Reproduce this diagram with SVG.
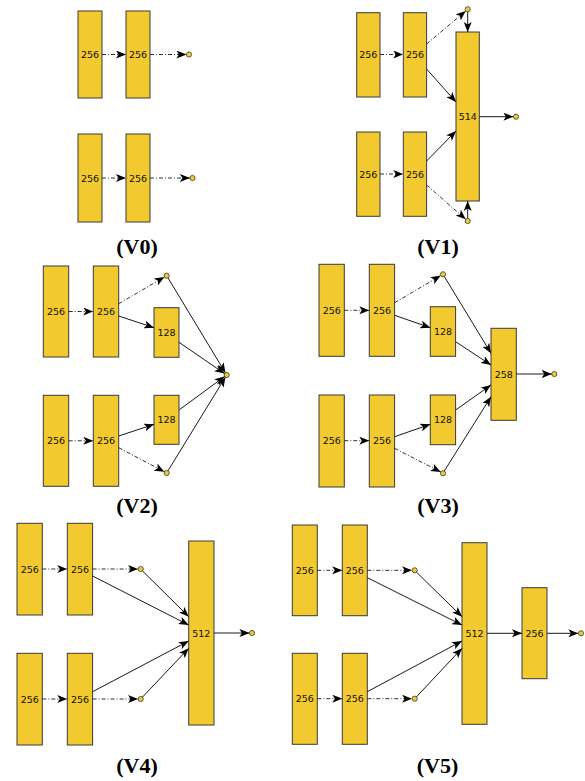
<svg xmlns="http://www.w3.org/2000/svg" width="585" height="781" viewBox="0 0 585 781">
<style>
.b{fill:#F2C92E;stroke:#3a3a3a;stroke-width:1}
.c{fill:#F2C92E;stroke:#3a3a3a;stroke-width:0.8}
.t{font-family:"DejaVu Sans",sans-serif;font-size:9.5px;fill:#111;text-anchor:middle;dominant-baseline:central}
.s{stroke:#1a1a1a;stroke-width:1;fill:none;marker-end:url(#ah)}
.d{stroke:#1a1a1a;stroke-width:0.9;fill:none;stroke-dasharray:4 2 1 2;marker-end:url(#ah)}
.L{font-family:"Liberation Serif",serif;font-size:22px;font-weight:bold;fill:#000;text-anchor:middle}
</style>
<defs>
<marker id="ah" markerUnits="userSpaceOnUse" markerWidth="10" markerHeight="8" viewBox="0 0 10 8" refX="10" refY="4" orient="auto">
<path d="M0,0 L10,4 L0,8 L2.5,4 z" fill="#000"/>
</marker>
</defs>

<!-- V0 -->
<g id="v0-a1"><rect class="b" x="78" y="11" width="24" height="87"/><text class="t" x="90" y="54.5">256</text></g>
<g id="v0-a2"><rect class="b" x="126" y="11" width="24" height="87"/><text class="t" x="138" y="54.5">256</text></g>
<g id="v0-ao"><circle class="c" cx="189" cy="54.5" r="2.6"/></g>
<g id="v0-b1"><rect class="b" x="78" y="134" width="24" height="88"/><text class="t" x="90" y="178">256</text></g>
<g id="v0-b2"><rect class="b" x="126" y="134" width="24" height="88"/><text class="t" x="138" y="178">256</text></g>
<g id="v0-bo"><circle class="c" cx="192.5" cy="178" r="2.6"/></g>

<!-- V1 -->
<g id="v1-a1"><rect class="b" x="356.7" y="12.7" width="23.3" height="84.3"/><text class="t" x="368.3" y="54.5">256</text></g>
<g id="v1-a2"><rect class="b" x="403.3" y="12.7" width="23.3" height="84.3"/><text class="t" x="415" y="54.5">256</text></g>
<g id="v1-b1"><rect class="b" x="356.7" y="132" width="23.3" height="84.3"/><text class="t" x="368.3" y="174">256</text></g>
<g id="v1-b2"><rect class="b" x="403.3" y="132" width="23.3" height="84.3"/><text class="t" x="415" y="174">256</text></g>
<g id="v1-m"><rect class="b" x="456" y="32" width="23.3" height="169"/><text class="t" x="467.7" y="116.7">514</text></g>
<g id="v1-ct"><circle class="c" cx="467.7" cy="9.3" r="2.6"/></g>
<g id="v1-cb"><circle class="c" cx="467.7" cy="221" r="2.6"/></g>
<g id="v1-o"><circle class="c" cx="516" cy="116.7" r="2.6"/></g>

<!-- V2 -->
<g id="v2-a1"><rect class="b" x="43.3" y="266" width="25.4" height="91"/><text class="t" x="56" y="311.5">256</text></g>
<g id="v2-a2"><rect class="b" x="93.3" y="266" width="25.4" height="91"/><text class="t" x="106" y="311.5">256</text></g>
<g id="v2-b1"><rect class="b" x="43.3" y="395.3" width="25.4" height="91"/><text class="t" x="56" y="440.8">256</text></g>
<g id="v2-b2"><rect class="b" x="93.3" y="395.3" width="25.4" height="91"/><text class="t" x="106" y="440.8">256</text></g>
<g id="v2-ca"><circle class="c" cx="166.7" cy="275.7" r="2.6"/></g>
<g id="v2-cb"><circle class="c" cx="166.7" cy="473" r="2.6"/></g>
<g id="v2-pa"><rect class="b" x="154" y="307.7" width="25" height="49.6"/><text class="t" x="166.5" y="332.5">128</text></g>
<g id="v2-pb"><rect class="b" x="154" y="395.3" width="25" height="49"/><text class="t" x="166.5" y="419.8">128</text></g>
<g id="v2-o"><circle class="c" cx="226.7" cy="375" r="2.6"/></g>

<!-- V3 -->
<g id="v3-a1"><rect class="b" x="319" y="264.3" width="25.3" height="92"/><text class="t" x="331.7" y="310.3">256</text></g>
<g id="v3-a2"><rect class="b" x="369.3" y="264.3" width="25.3" height="92"/><text class="t" x="382" y="310.3">256</text></g>
<g id="v3-b1"><rect class="b" x="319" y="395" width="25.3" height="92"/><text class="t" x="331.7" y="440.7">256</text></g>
<g id="v3-b2"><rect class="b" x="369.3" y="395" width="25.3" height="92"/><text class="t" x="382" y="440.7">256</text></g>
<g id="v3-ca"><circle class="c" cx="443" cy="274.3" r="2.6"/></g>
<g id="v3-cb"><circle class="c" cx="443" cy="473.3" r="2.6"/></g>
<g id="v3-pa"><rect class="b" x="430.3" y="306.7" width="25.3" height="49.6"/><text class="t" x="443" y="331.7">128</text></g>
<g id="v3-pb"><rect class="b" x="430.3" y="395" width="25.3" height="49.7"/><text class="t" x="443" y="419.8">128</text></g>
<g id="v3-m"><rect class="b" x="491" y="328.3" width="25.3" height="92"/><text class="t" x="503.7" y="374">258</text></g>
<g id="v3-o"><circle class="c" cx="554.3" cy="374" r="2.6"/></g>

<!-- V4 -->
<g id="v4-a1"><rect class="b" x="17" y="523.3" width="25.3" height="91.7"/><text class="t" x="29.7" y="569">256</text></g>
<g id="v4-a2"><rect class="b" x="67.3" y="523.3" width="25.3" height="91.7"/><text class="t" x="80" y="569">256</text></g>
<g id="v4-b1"><rect class="b" x="17" y="653.3" width="25.3" height="91.7"/><text class="t" x="29.7" y="699">256</text></g>
<g id="v4-b2"><rect class="b" x="67.3" y="653.3" width="25.3" height="91.7"/><text class="t" x="80" y="699">256</text></g>
<g id="v4-ca"><circle class="c" cx="140.7" cy="569" r="2.6"/></g>
<g id="v4-cb"><circle class="c" cx="140.7" cy="699" r="2.6"/></g>
<g id="v4-m"><rect class="b" x="188.7" y="541" width="25.3" height="184"/><text class="t" x="201.3" y="633">512</text></g>
<g id="v4-o"><circle class="c" cx="252" cy="633" r="2.6"/></g>

<!-- V5 -->
<g id="v5-a1"><rect class="b" x="292.3" y="525" width="25" height="90.7"/><text class="t" x="304.8" y="570.3">256</text></g>
<g id="v5-a2"><rect class="b" x="342.3" y="525" width="25" height="90.7"/><text class="t" x="354.8" y="570.3">256</text></g>
<g id="v5-b1"><rect class="b" x="292.3" y="653.3" width="25" height="91"/><text class="t" x="304.8" y="698.7">256</text></g>
<g id="v5-b2"><rect class="b" x="342.3" y="653.3" width="25" height="91"/><text class="t" x="354.8" y="698.7">256</text></g>
<g id="v5-ca"><circle class="c" cx="414.7" cy="570.3" r="2.6"/></g>
<g id="v5-cb"><circle class="c" cx="414.7" cy="698.7" r="2.6"/></g>
<g id="v5-m"><rect class="b" x="462" y="542.7" width="25" height="181.6"/><text class="t" x="474.5" y="633.3">512</text></g>
<g id="v5-n"><rect class="b" x="522" y="587.7" width="25" height="91"/><text class="t" x="534.5" y="633.3">256</text></g>
<g id="v5-o"><circle class="c" cx="581" cy="633.3" r="2.6"/></g>

<g id="connectors">
<!-- V0 -->
<line class="d" x1="102" y1="54.5" x2="126" y2="54.5"/>
<line class="d" x1="150" y1="54.5" x2="186.4" y2="54.5"/>
<line class="d" x1="102" y1="178" x2="126" y2="178"/>
<line class="d" x1="150" y1="178" x2="189.9" y2="178"/>
<!-- V1 -->
<line class="d" x1="380" y1="54.5" x2="403.3" y2="54.5"/>
<line class="d" x1="380" y1="174" x2="403.3" y2="174"/>
<line class="d" x1="426.6" y1="44" x2="465.7" y2="11"/>
<line class="s" x1="426.6" y1="69" x2="456" y2="102"/>
<line class="s" x1="426.6" y1="161" x2="456" y2="131"/>
<line class="d" x1="426.6" y1="185" x2="465.7" y2="219.3"/>
<line class="s" x1="467.7" y1="11.9" x2="467.7" y2="32"/>
<line class="s" x1="467.7" y1="218.4" x2="467.7" y2="201"/>
<line class="s" x1="479.3" y1="116.7" x2="513.4" y2="116.7"/>
<!-- V2 -->
<line class="d" x1="68.7" y1="311.5" x2="93.3" y2="311.5"/>
<line class="d" x1="68.7" y1="440.8" x2="93.3" y2="440.8"/>
<line class="d" x1="118.7" y1="303.7" x2="164.5" y2="277"/>
<line class="s" x1="118.7" y1="316" x2="154" y2="327.7"/>
<line class="s" x1="118.7" y1="436" x2="154" y2="424.3"/>
<line class="d" x1="118.7" y1="447.7" x2="164.4" y2="471.8"/>
<line class="s" x1="179" y1="342.3" x2="224.6" y2="373.6"/>
<line class="s" x1="168" y1="277.9" x2="225.4" y2="372.8"/>
<line class="s" x1="179" y1="410" x2="224.6" y2="376.5"/>
<line class="s" x1="168" y1="470.8" x2="225.4" y2="377.2"/>
<!-- V3 -->
<line class="d" x1="344.3" y1="310.3" x2="369.3" y2="310.3"/>
<line class="d" x1="344.3" y1="440.7" x2="369.3" y2="440.7"/>
<line class="d" x1="394.6" y1="302.7" x2="440.8" y2="275.6"/>
<line class="s" x1="394.6" y1="315.3" x2="430.3" y2="327.7"/>
<line class="s" x1="394.6" y1="436.7" x2="430.3" y2="424.3"/>
<line class="d" x1="394.6" y1="448.3" x2="440.8" y2="472"/>
<line class="s" x1="444.3" y1="276.5" x2="491" y2="353.3"/>
<line class="s" x1="455.6" y1="341.7" x2="491" y2="365"/>
<line class="s" x1="455.6" y1="410" x2="491" y2="385"/>
<line class="s" x1="444.3" y1="471" x2="491" y2="396.7"/>
<line class="s" x1="516.3" y1="374" x2="551.7" y2="374"/>
<!-- V4 -->
<line class="d" x1="42.3" y1="569" x2="67.3" y2="569"/>
<line class="d" x1="42.3" y1="699" x2="67.3" y2="699"/>
<line class="d" x1="92.6" y1="569" x2="138.1" y2="569"/>
<line class="d" x1="92.6" y1="699" x2="138.1" y2="699"/>
<line class="s" x1="142.4" y1="570.8" x2="188.7" y2="616.7"/>
<line class="s" x1="92.6" y1="576" x2="188.7" y2="625"/>
<line class="s" x1="92.6" y1="691.7" x2="188.7" y2="641"/>
<line class="s" x1="142.4" y1="697.2" x2="188.7" y2="648.3"/>
<line class="s" x1="214" y1="633" x2="249.4" y2="633"/>
<!-- V5 -->
<line class="d" x1="317.3" y1="570.3" x2="342.3" y2="570.3"/>
<line class="d" x1="317.3" y1="698.7" x2="342.3" y2="698.7"/>
<line class="d" x1="367.3" y1="570.3" x2="412.1" y2="570.3"/>
<line class="d" x1="367.3" y1="698.7" x2="412.1" y2="698.7"/>
<line class="s" x1="416.4" y1="572.1" x2="462" y2="616.7"/>
<line class="s" x1="367.3" y1="577.7" x2="462" y2="625"/>
<line class="s" x1="367.3" y1="691.7" x2="462" y2="641"/>
<line class="s" x1="416.4" y1="696.9" x2="462" y2="648.3"/>
<line class="s" x1="487" y1="633.3" x2="522" y2="633.3"/>
<line class="s" x1="547" y1="633.3" x2="578.4" y2="633.3"/>
</g>

<g id="labels">
<text class="L" x="137" y="254">(V0)</text>
<text class="L" x="438" y="254">(V1)</text>
<text class="L" x="137" y="513">(V2)</text>
<text class="L" x="438" y="513">(V3)</text>
<text class="L" x="137" y="773">(V4)</text>
<text class="L" x="437.5" y="773">(V5)</text>
</g>
</svg>
